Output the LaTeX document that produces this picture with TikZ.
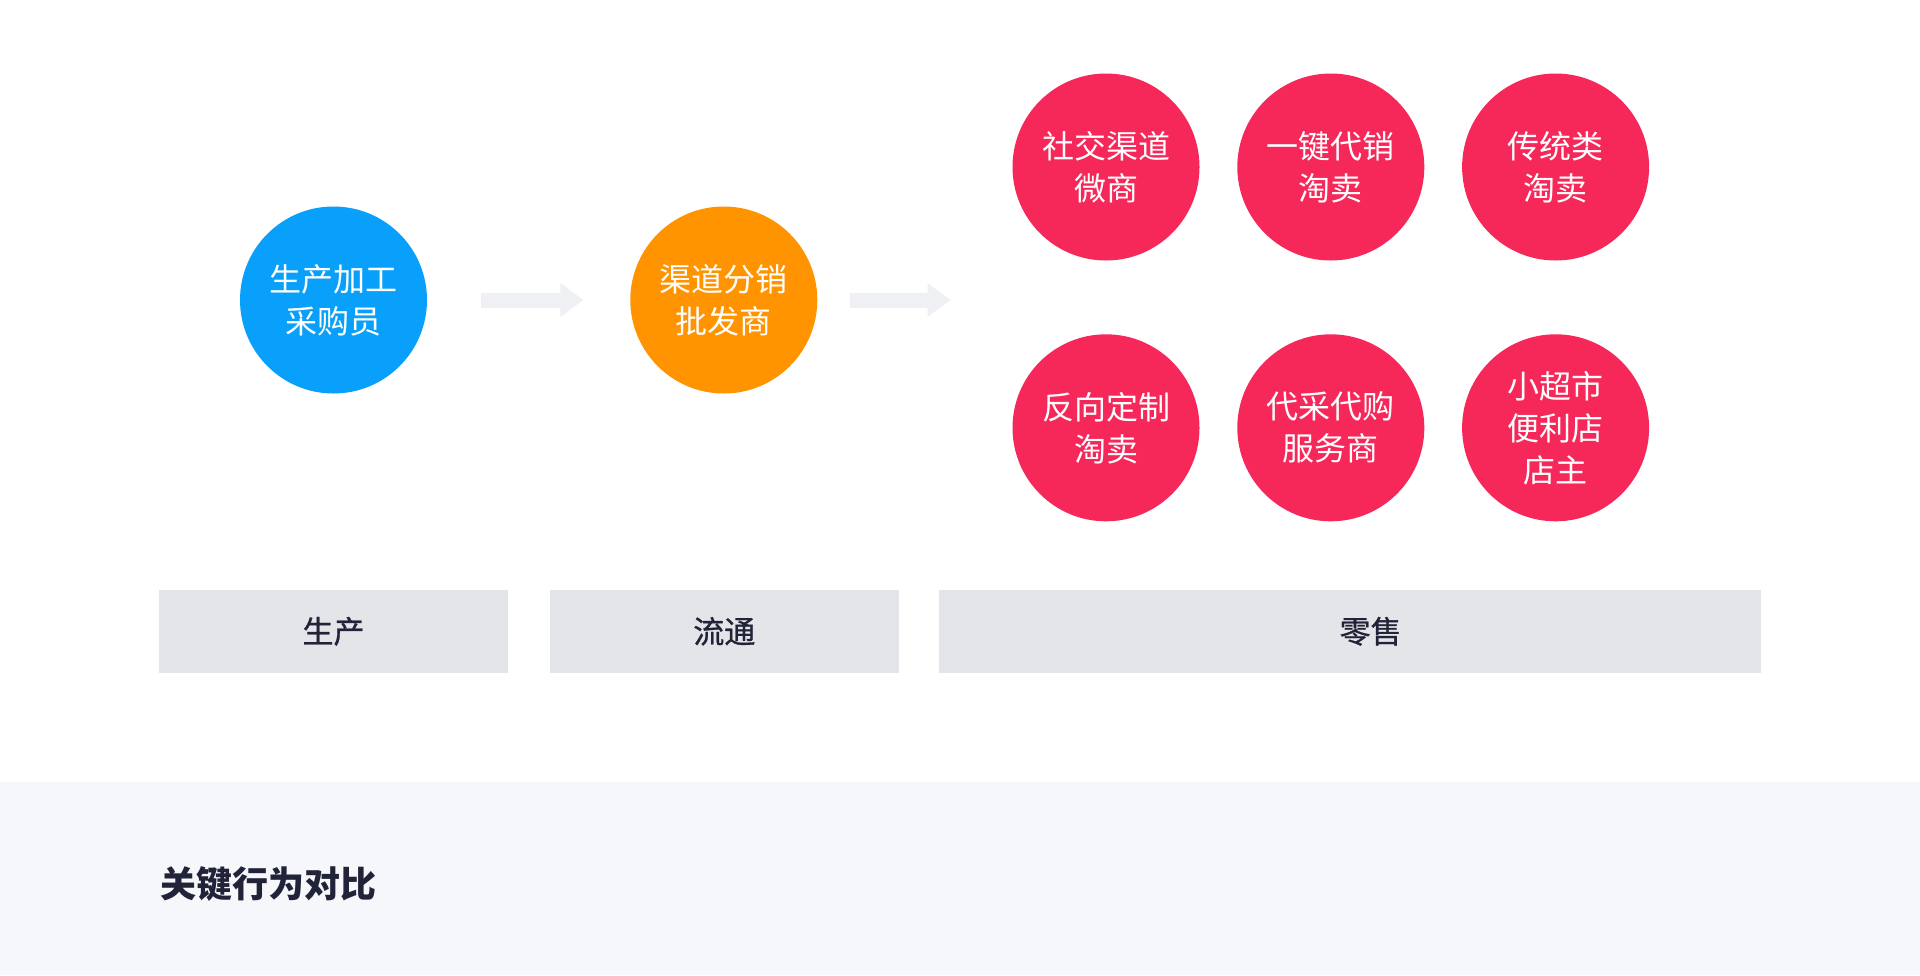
\documentclass[tikz,border=0pt]{standalone}
\usepackage{fontspec}
\setmainfont{Noto Sans CJK SC}
\newfontfamily\stagefont[FakeBold=0.9]{Noto Sans CJK SC}
\usepackage{tikz}
\usetikzlibrary{arrows.meta,positioning}
\definecolor{producerblue}{RGB}{8,160,250}
\definecolor{traderorange}{RGB}{255,148,0}
\definecolor{retailred}{RGB}{246,40,90}
\definecolor{stagegray}{RGB}{228,229,233}
\definecolor{arrowgray}{RGB}{238,240,243}
\definecolor{inknavy}{RGB}{33,36,56}
\definecolor{bandgray}{RGB}{246,247,251}
\tikzset{
  % --- role circles ----------------------------------------------------------
  rolecircle/.style={
    circle, minimum size=93.5pt, inner sep=0pt, align=center,
    text=white, font=\fontsize{16pt}{21pt}\selectfont
  },
  producercircle/.style={rolecircle, fill=producerblue},
  tradercircle/.style={rolecircle, fill=traderorange},
  retailcircle/.style={rolecircle, fill=retailred},
  % --- stage boxes -----------------------------------------------------------
  stagebox/.style={
    rectangle, fill=stagegray, minimum height=41.5pt, inner sep=0pt,
    text=inknavy, font=\stagefont\fontsize{15.5pt}{18pt}\selectfont
  },
  % --- flow arrows -----------------------------------------------------------
  flowarrow/.style={
    draw=arrowgray, line width=7.5pt,
    -{Triangle[length=11.5pt,width=16pt]}
  },
}

\begin{document}
\begin{tikzpicture}[x=0.5pt, y=-0.5pt]
    \useasboundingbox (0,0) rectangle (1920,975);
    \fill[white] (0,0) rectangle (1920,975);
    \fill[bandgray] (0,782) rectangle (1920,975);

    \node[producercircle] (producer) at (333.5,300) {生产加工\\采购员};
    \node[tradercircle, right=101.25pt of producer] (distributor) {渠道分销\\批发商};

    \node[retailcircle] (social) at (1106,167) {社交渠道\\微商};
    \node[retailcircle, right=18.5pt of social] (oneclick) {一键代销\\淘卖};
    \node[retailcircle, right=18.5pt of oneclick] (classic) {传统类\\淘卖};
    \node[retailcircle, below=36.5pt of social] (reverse) {反向定制\\淘卖};
    \node[retailcircle, right=18.5pt of reverse] (proxy) {代采代购\\服务商};
    \node[retailcircle, right=18.5pt of proxy] (store) {小超市\\便利店\\店主};

    \draw[flowarrow, shorten <=27pt, shorten >=23.25pt] (producer) -- (distributor);
    \draw[flowarrow, shorten <=16.25pt, shorten >=30.75pt] (distributor) -- (distributor.east -| social.west);

    \node[stagebox, minimum width=174.5pt, below=97.75pt of producer] (production) {生产};
    \node[stagebox, minimum width=174.5pt, right=20.5pt of production] (circulation) {流通};
    \node[stagebox, minimum width=411pt, right=19.5pt of circulation,
      label={[xshift=10.5pt, text=inknavy, font=\stagefont\fontsize{15.5pt}{18pt}\selectfont]center:零售}] (retail) {};

    \node[anchor=west, text=inknavy, font=\fontsize{18pt}{22pt}\selectfont\bfseries, inner sep=0pt] (title) at (160,884) {关键行为对比};
  \end{tikzpicture}
\end{document}
